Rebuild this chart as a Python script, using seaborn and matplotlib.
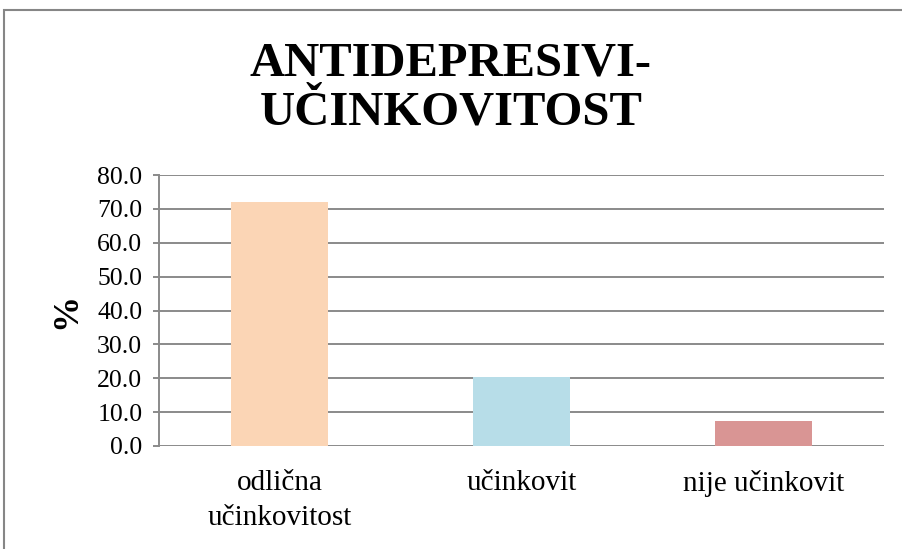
import pandas as pd
import seaborn as sns
import matplotlib.pyplot as plt
from matplotlib.patches import Rectangle

categories = ["odlična\nučinkovitost", "učinkovit", "nije učinkovit"]
values = [72.1, 20.5, 7.4]
colors = ["#FBD5B5", "#B7DDE8", "#D99594"]
title = "ANTIDEPRESIVI-\nUČINKOVITOST"

df = pd.DataFrame({"kategorija": categories, "postotak": values})

sns.set_theme(style="white")
plt.rcParams["font.family"] = ["Liberation Serif", "DejaVu Serif"]
plt.rcParams["text.color"] = "black"
plt.rcParams["xtick.color"] = "black"
plt.rcParams["ytick.color"] = "black"
plt.rcParams["axes.labelcolor"] = "black"

fig = plt.figure(figsize=(9.02, 5.49), dpi=100)
ax = fig.add_axes([159 / 902, 1 - 446 / 549, (884 - 159) / 902, (446 - 175) / 549])

sns.barplot(data=df, x="kategorija", y="postotak", hue="kategorija",
            palette=colors, width=0.4, saturation=1, linewidth=0,
            legend=False, ax=ax, zorder=3)

grid_c = "#8a8a8a"
ax.set_ylim(0, 80)
ax.set_yticks(range(0, 81, 10))
ax.set_yticklabels([f"{v:.1f}" for v in range(0, 81, 10)], fontsize=18.5)
ax.grid(axis="y", color=grid_c, linewidth=1.4, zorder=0)
ax.tick_params(axis="x", labelsize=21, pad=17, length=0)
ax.tick_params(axis="y", pad=8, length=4, width=1.4, color=grid_c, left=True)
for lbl in ax.get_xticklabels():
    lbl.set_linespacing(1.45)
for s in ax.spines.values():
    s.set_visible(False)
ax.spines["left"].set_visible(True)
ax.spines["left"].set_color(grid_c)
ax.spines["left"].set_linewidth(1.4)
ax.set_xlabel("")
ax.set_ylabel("%", fontsize=26, fontweight="bold", labelpad=10)

fig.text(0.5, 1 - 88 / 549, title, ha="center", va="center", fontsize=35,
         fontweight="bold", linespacing=1.15)

fig.patches.append(Rectangle((4 / 902, -0.1), 1.1, 1 - 10 / 549 + 0.1,
                             transform=fig.transFigure, fill=False,
                             edgecolor="#868686", linewidth=1.5))

fig.savefig("out.png", dpi=100)
